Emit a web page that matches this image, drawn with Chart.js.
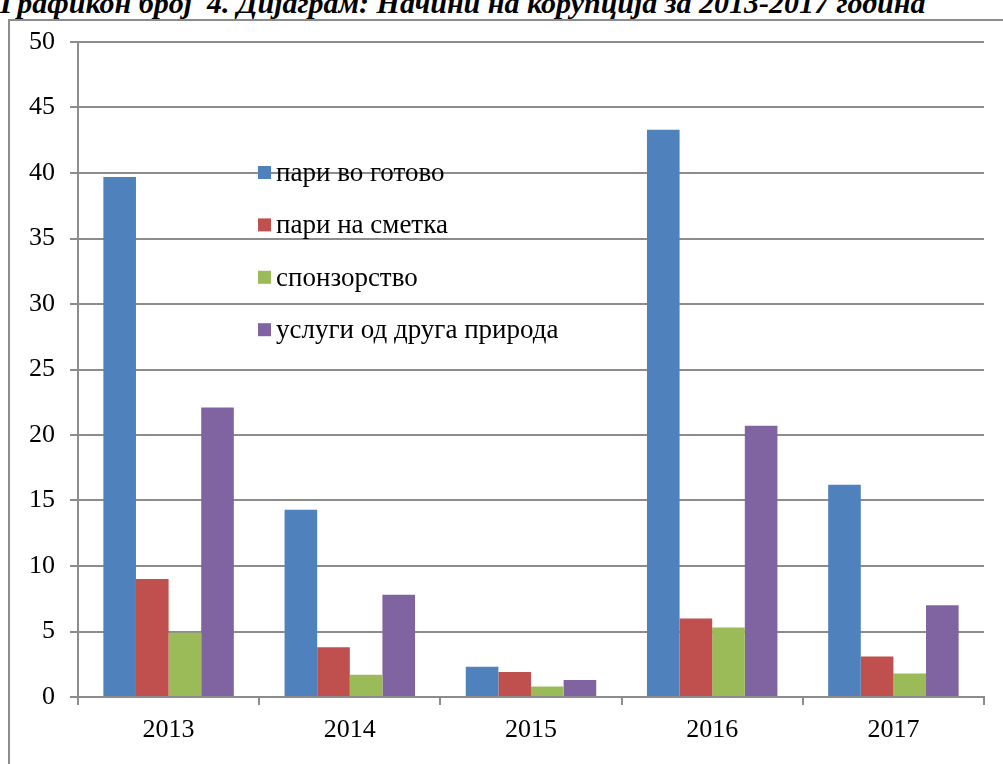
<!DOCTYPE html>
<html>
<head>
<meta charset="utf-8">
<script src="https://cdn.jsdelivr.net/npm/chart.js@4"></script>
<style>
  html, body { margin: 0; padding: 0; background: #fff; overflow: hidden; }
  body { width: 1003px; height: 764px; position: relative; font-family: "Liberation Serif", serif; }
  #frame { position: absolute; left: 8px; top: 19px; width: 1020px; height: 800px; border: 2px solid #8c8c8c; box-sizing: border-box; }
  #title { position: absolute; left: 0px; top: -12px; white-space: nowrap; font: italic bold 30px "Liberation Serif", serif; color: #000; line-height: 30px; }
  #wrap { position: absolute; left: 0; top: 0; width: 1003px; height: 764px; }
  #probe { position: absolute; left: -1000px; top: -1000px; font: 26px "Liberation Serif"; }
</style>
</head>
<body>
<div id="frame"></div>
<div id="title">Графикон број&nbsp;&nbsp;4. Дијаграм: Начини на корупција за 2013-2017 година</div>
<div id="probe">пари 2013</div>
<div id="wrap"><canvas id="c" width="1003" height="764"></canvas></div>
<script>
const categories = ['2013', '2014', '2015', '2016', '2017'];
const seriesNames = ['пари во готово', 'пари на сметка', 'спонзорство', 'услуги од друга природа'];
const cashValues = [39.7, 14.3, 2.3, 43.3, 16.2];
const accountValues = [9.0, 3.8, 1.9, 6.0, 3.1];
const sponsorValues = [4.9, 1.7, 0.8, 5.3, 1.8];
const otherServicesValues = [22.1, 7.8, 1.3, 20.7, 7.0];
const yTickLabels = [0, 5, 10, 15, 20, 25, 30, 35, 40, 45, 50];
const legendAnchorValues = [40, 36, 32, 28];

const colors = ['#4F81BD', '#C0504D', '#9BBB59', '#8064A2'];
const seriesValues = [cashValues, accountValues, sponsorValues, otherServicesValues];

const FONT = "'Liberation Serif', 'Times New Roman', Times, serif";

const legendPlugin = {
  id: 'insideLegend',
  afterDraw(chart) {
    const ctx = chart.ctx;
    const yScale = chart.scales.y;
    const x = 258;
    ctx.save();
    ctx.font = '27px ' + FONT;
    ctx.textBaseline = 'middle';
    ctx.textAlign = 'left';
    chart.data.datasets.forEach((ds, i) => {
      const y = yScale.getPixelForValue(legendAnchorValues[i]);
      ctx.fillStyle = ds.backgroundColor;
      ctx.fillRect(x, y - 7, 13, 13);
      ctx.fillStyle = '#000';
      ctx.fillText(ds.label, x + 18, y + 1);
    });
    ctx.restore();
  }
};

function build() {
  Chart.defaults.font.family = FONT;
  new Chart(document.getElementById('c'), {
    type: 'bar',
    data: {
      labels: categories,
      datasets: seriesNames.map((name, i) => ({
        label: name,
        data: seriesValues[i],
        backgroundColor: colors[i],
        borderWidth: 0,
        barPercentage: 1.0,
        categoryPercentage: 0.72
      }))
    },
    options: {
      responsive: false,
      animation: false,
      devicePixelRatio: 1,
      layout: { padding: { left: 0, right: 19, top: 42, bottom: 0 } },
      plugins: {
        legend: { display: false },
        tooltip: { enabled: false },
        title: { display: false }
      },
      scales: {
        x: {
          afterFit(s) { s.height = 67; },
          grid: { drawOnChartArea: false, drawTicks: true, tickLength: 8, offset: true, color: '#8c8c8c', lineWidth: 2 },
          border: { display: true, color: '#8c8c8c', width: 2 },
          ticks: { color: '#000', font: { family: FONT, size: 26 }, padding: 10 }
        },
        y: {
          min: 0,
          max: 50,
          afterFit(s) { s.width = 78; },
          afterBuildTicks(s) { s.ticks = yTickLabels.map(v => ({ value: v })); },
          grid: { color: '#8c8c8c', lineWidth: 2, drawTicks: true, tickLength: 8 },
          border: { display: true, color: '#8c8c8c', width: 2 },
          ticks: { color: '#000', font: { family: FONT, size: 26 }, padding: 15, stepSize: 5 }
        }
      }
    },
    plugins: [legendPlugin]
  });
}

if (document.fonts && document.fonts.load) {
  Promise.all([
    document.fonts.load("26px 'Liberation Serif'", 'пари 2013'),
    document.fonts.load("italic bold 30px 'Liberation Serif'", 'Графикон')
  ]).then(build, build);
} else {
  build();
}
</script>
</body>
</html>
